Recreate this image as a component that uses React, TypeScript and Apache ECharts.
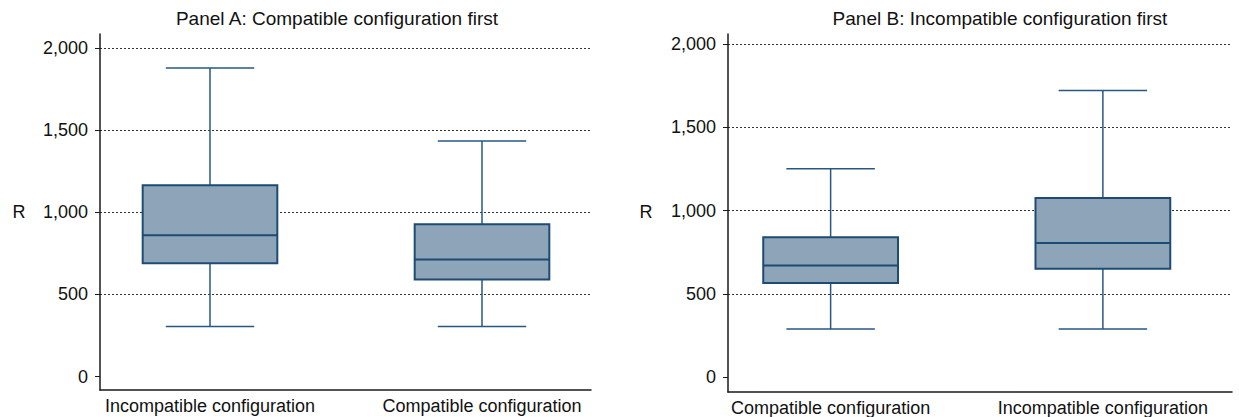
import React, { useEffect, useRef } from "react";
import * as echarts from "echarts";

const panelATitle = "Panel A: Compatible configuration first";
const panelACategories = ["Incompatible configuration", "Compatible configuration"];
const panelALow = [305, 305];
const panelAQ1 = [689, 591];
const panelAMedian = [860, 713];
const panelAQ3 = [1165, 927];
const panelAHigh = [1878, 1433];

const panelBTitle = "Panel B: Incompatible configuration first";
const panelBCategories = ["Compatible configuration", "Incompatible configuration"];
const panelBLow = [288, 288];
const panelBQ1 = [565, 650];
const panelBMedian = [670, 805];
const panelBQ3 = [840, 1075];
const panelBHigh = [1250, 1720];

const yTicks = [0, 500, 1000, 1500, 2000];
const yGridValues = [500, 1000, 1500, 2000];
const yAxisName = "R";

const FONT = "'Liberation Sans', Arial, Helvetica, sans-serif";
const BOX_FILL = "#8ea5b9";
const BOX_LINE = "#1d4b74";
const WHISKER = "#275783";

function rows(low: number[], q1: number[], med: number[], q3: number[], high: number[]) {
  return low.map((_, i) => [i, low[i], q1[i], med[i], q3[i], high[i]]);
}

function renderBox(params: any, api: any) {
  const x = api.value(0);
  const low = api.value(1);
  const q1 = api.value(2);
  const med = api.value(3);
  const q3 = api.value(4);
  const high = api.value(5);
  const band = api.size([1, 0])[0];
  const bw = band * 0.495;
  const cw = band * 0.325;
  const pLow = api.coord([x, low]);
  const pQ1 = api.coord([x, q1]);
  const pMed = api.coord([x, med]);
  const pQ3 = api.coord([x, q3]);
  const pHigh = api.coord([x, high]);
  const cx = pMed[0];
  const lineStyle = { stroke: WHISKER, lineWidth: 1.5, fill: null };
  return {
    type: "group",
    children: [
      { type: "line", shape: { x1: cx, y1: pHigh[1], x2: cx, y2: pQ3[1] }, style: lineStyle },
      { type: "line", shape: { x1: cx, y1: pQ1[1], x2: cx, y2: pLow[1] }, style: lineStyle },
      { type: "line", shape: { x1: cx - cw / 2, y1: pHigh[1], x2: cx + cw / 2, y2: pHigh[1] }, style: lineStyle },
      { type: "line", shape: { x1: cx - cw / 2, y1: pLow[1], x2: cx + cw / 2, y2: pLow[1] }, style: lineStyle },
      {
        type: "rect",
        shape: { x: cx - bw / 2, y: pQ3[1], width: bw, height: pQ1[1] - pQ3[1] },
        style: { fill: BOX_FILL, stroke: BOX_LINE, lineWidth: 2 },
      },
      { type: "line", shape: { x1: cx - bw / 2, y1: pMed[1], x2: cx + bw / 2, y2: pMed[1] }, style: { stroke: BOX_LINE, lineWidth: 2 } },
    ],
  };
}

function fmt(v: number) {
  return v.toLocaleString("en-US");
}

export default function App() {
  const ref = useRef<HTMLDivElement>(null);
  useEffect(() => {
    if (!ref.current) return;
    const chart = echarts.init(ref.current, null, { renderer: "svg" });

    const frames = [
      { left: 100, top: 34, width: 491, height: 356, min: -82, max: 2085 },
      { left: 728, top: 34, width: 504, height: 358, min: -90, max: 2060 },
    ];
    const dataGrids = [
      { left: 74, top: 34, width: 544, height: 356 },
      { left: 694.5, top: 34, width: 558, height: 358 },
    ];
    const cats = [panelACategories, panelBCategories];
    const data = [
      rows(panelALow, panelAQ1, panelAMedian, panelAQ3, panelAHigh),
      rows(panelBLow, panelBQ1, panelBMedian, panelBQ3, panelBHigh),
    ];

    const grid: any[] = [];
    const xAxis: any[] = [];
    const yAxis: any[] = [];
    const series: any[] = [];
    let yIdx = 0;

    for (let p = 0; p < 2; p++) {
      const f = frames[p];
      const d = dataGrids[p];
      grid.push({ left: f.left, top: f.top, width: f.width, height: f.height, containLabel: false });
      grid.push({ left: d.left, top: d.top, width: d.width, height: d.height, containLabel: false });
      const gFrame = p * 2;
      const gData = p * 2 + 1;
      xAxis.push({
        gridIndex: gFrame,
        type: "value",
        min: 0,
        max: 1,
        axisLine: { show: true, onZero: false, lineStyle: { color: "#1a1a1a", width: 1.5 } },
        axisTick: { show: false },
        axisLabel: { show: false },
        splitLine: { show: false },
      });
      xAxis.push({
        gridIndex: gData,
        type: "category",
        data: cats[p],
        boundaryGap: true,
        axisLine: { show: false },
        axisTick: { show: false },
        splitLine: { show: false },
        axisLabel: { show: true, color: "#111", fontSize: 18, fontFamily: FONT, margin: 7, interval: 0 },
      });
      // frame axis: line, ticks, labels
      yAxis.push({
        gridIndex: gFrame,
        type: "value",
        position: "left",
        min: f.min,
        max: f.max,
        axisLine: { show: true, onZero: false, lineStyle: { color: "#1a1a1a", width: 1.5 } },
        axisTick: { show: true, length: 5, customValues: yTicks, lineStyle: { color: "#1a1a1a", width: 1 } },
        axisLabel: {
          show: true,
          customValues: yTicks,
          formatter: (v: number) => fmt(v),
          color: "#111",
          fontSize: 18,
          fontFamily: FONT,
          margin: 12,
        },
        splitLine: { show: false },
      });
      yIdx++;
      // frame axis: dotted gridlines only (none at zero)
      yAxis.push({
        gridIndex: gFrame,
        type: "value",
        position: "left",
        min: f.min,
        max: f.max,
        axisLine: { show: false },
        axisTick: { show: false, customValues: yGridValues },
        axisLabel: { show: false, customValues: yGridValues },
        splitLine: { show: true, lineStyle: { color: "#333", type: [2, 2], width: 1.2 } },
      });
      yIdx++;
      yAxis.push({
        gridIndex: gData,
        type: "value",
        min: f.min,
        max: f.max,
        show: false,
        splitLine: { show: false },
      });
      const dataY = yIdx;
      yIdx++;
      series.push({
        type: "custom",
        xAxisIndex: p * 2 + 1,
        yAxisIndex: dataY,
        data: data[p],
        encode: { x: 0, y: [1, 2, 3, 4, 5] },
        renderItem: renderBox,
        z: 5,
      });
    }

    chart.setOption({
      animation: false,
      backgroundColor: "#fff",
      textStyle: { fontFamily: FONT },
      grid,
      xAxis,
      yAxis,
      series,
      graphic: [
        { type: "text", x: 337, y: 18, style: { text: panelATitle, fill: "#111", fontSize: 19, fontFamily: FONT, textAlign: "center", textVerticalAlign: "middle" } },
        { type: "text", x: 1000, y: 18, style: { text: panelBTitle, fill: "#111", fontSize: 19, fontFamily: FONT, textAlign: "center", textVerticalAlign: "middle" } },
        { type: "text", x: 19, y: 212, style: { text: yAxisName, fill: "#111", fontSize: 18, fontFamily: FONT, textAlign: "center", textVerticalAlign: "middle" } },
        { type: "text", x: 646, y: 212, style: { text: yAxisName, fill: "#111", fontSize: 18, fontFamily: FONT, textAlign: "center", textVerticalAlign: "middle" } },
      ],
    });
    return () => chart.dispose();
  }, []);
  return <div ref={ref} style={{ position: "absolute", left: 0, top: 0, width: 1239, height: 417 }} />;
}
